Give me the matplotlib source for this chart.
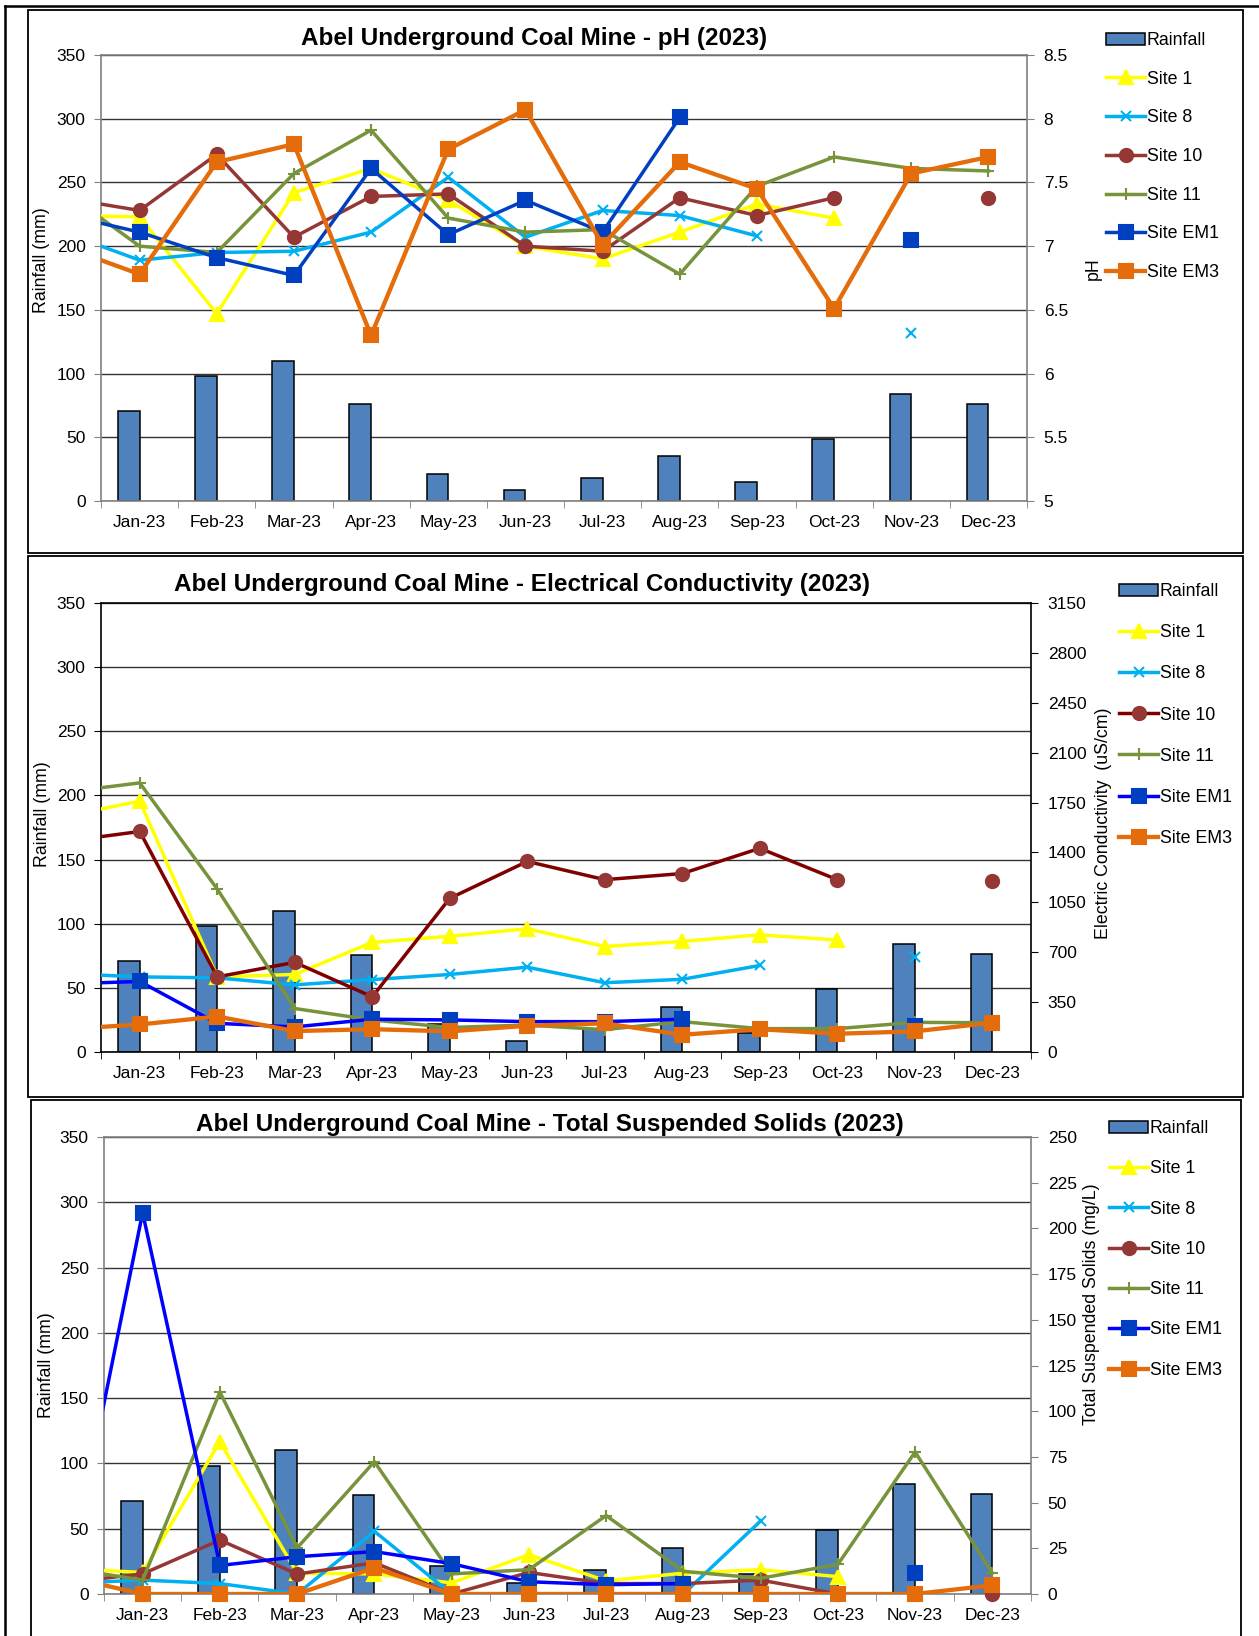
import numpy as np
import matplotlib
matplotlib.use("Agg")
import matplotlib.pyplot as plt
from matplotlib.patches import Rectangle, Patch
from matplotlib.lines import Line2D

plt.rcParams['font.family'] = ['Liberation Sans', 'DejaVu Sans']

nan = np.nan

# categories: Dec-22 is only there so the lines run in from the left edge
months = ['Dec-22', 'Jan-23', 'Feb-23', 'Mar-23', 'Apr-23', 'May-23', 'Jun-23',
          'Jul-23', 'Aug-23', 'Sep-23', 'Oct-23', 'Nov-23', 'Dec-23']
rainfall = [71, 98, 110, 76, 21.5, 8.5, 18, 35, 15, 49, 84, 76.5]

site_names = ['Site 1', 'Site 8', 'Site 10', 'Site 11', 'Site EM1', 'Site EM3']

# pH
ph_site1 = [7.24, 7.23, 6.47, 7.42, 7.61, 7.36, 7.0, 6.9, 7.11, 7.33, 7.22, nan, nan]
ph_site8 = [7.11, 6.89, 6.95, 6.96, 7.11, 7.54, 7.07, 7.28, 7.24, 7.08, nan, 6.32, nan]
ph_site10 = [7.38, 7.28, 7.72, 7.07, 7.39, 7.41, 7.0, 6.96, 7.38, 7.24, 7.38, nan, 7.38]
ph_site11 = [7.44, 7.0, 6.95, 7.57, 7.91, 7.22, 7.11, 7.13, 6.78, 7.47, 7.70, 7.61, 7.59]
ph_em1 = [7.25, 7.11, 6.91, 6.77, 7.61, 7.09, 7.36, 7.11, 8.01, nan, nan, 7.05, nan]
ph_em3 = [7.0, 6.78, 7.66, 7.80, 6.30, 7.76, 8.07, 7.01, 7.66, 7.45, 6.51, 7.57, 7.70]

# electrical conductivity (uS/cm)
ec_site1 = [1650, 1760, 527, 544, 769, 812, 865, 740, 776, 822, 786, nan, nan]
ec_site8 = [551, 527, 520, 471, 508, 544, 595, 486, 510, 607, nan, 667, nan]
ec_site10 = [1475, 1547, 527, 629, 387, 1078, 1337, 1209, 1252, 1429, 1209, nan, 1197]
ec_site11 = [1820, 1888, 1143, 305, 225, 172, 189, 157, 213, 164, 164, 208, 205]
ec_em1 = [477, 495, 201, 176, 230, 225, 213, 213, 230, nan, nan, 184, nan]
ec_em3 = [159, 193, 249, 147, 160, 145, 184, 201, 121, 160, 128, 145, 205]

# total suspended solids (mg/L)
tss_site1 = [13.8, 11.8, 83.3, 11.4, 11.0, 6.1, 21.5, 7.2, 11.4, 13.3, 9.5, nan, nan]
tss_site8 = [5.8, 7.6, 5.7, 0, 34.3, 0, 0, 0, 0, 40, nan, nan, nan]
tss_site10 = [6.2, 11, 29.5, 10.9, 17.1, 0, 11.8, 5.7, 5.7, 7.6, 0, nan, 0]
tss_site11 = [14.2, 7.6, 110.5, 25.2, 72.4, 11, 13.3, 42.9, 12.4, 8.6, 16.2, 77.7, 11.4]
tss_em1 = [0, 208.6, 15.6, 20.4, 23.2, 16.6, 6.7, 5.1, 5.7, nan, nan, 11.4, nan]
tss_em3 = [9.6, 0, 0, 0, 14.3, 0, 0, 0, 0, 0, 0, 0, 4.8]

ph_ticks = [5, 5.5, 6, 6.5, 7, 7.5, 8, 8.5]
ph_labels = ['5', '5.5', '6', '6.5', '7', '7.5', '8', '8.5']
ec_ticks = [0, 350, 700, 1050, 1400, 1750, 2100, 2450, 2800, 3150]
tss_ticks = [0, 25, 50, 75, 100, 125, 150, 175, 200, 225, 250]

marker_colors = ['#FFFF00', '#00B0F0', '#953735', '#77933C', '#0040C0', '#E46C0A']
markers = ['^', 'x', 'o', '+', 's', 's']
msizes = [10, 7.5, 9.5, 8, 10, 10]
lwidths = [2.5, 2.5, 2.5, 2.5, 2.5, 3.1]

W, H = 1259, 1636
fig = plt.figure(figsize=(W / 100, H / 100), dpi=100)

x_site = np.arange(-1, 12)
x_month = np.arange(12)
FS = 12.5


def px(x0, y0, x1, y1):
    # pixel box -> figure fraction [left, bottom, width, height]
    return [x0 / W, 1 - y1 / H, (x1 - x0) / W, (y1 - y0) / H]


def panel(axbox, title, title_xy, series, line_colors, rlim, rticks, rlabels,
          rlabel, rlabel_pos, llabel_pos, leg_xy, leg_space, spine_col):
    ax = fig.add_axes(px(*axbox))
    ax2 = ax.twinx()
    ax.bar(x_month, rainfall, width=-0.28, align='edge', color='#4F81BD',
           edgecolor='black', linewidth=1.1, zorder=2)
    ax.set_xlim(-0.5, 11.5)
    ax.set_ylim(0, 350)
    ax.set_yticks(range(0, 351, 50))
    ax.yaxis.grid(True, color='#333333', linewidth=1.0, zorder=0)
    ax.set_axisbelow(True)
    ax.set_xticks(x_month)
    ax.set_xticklabels(months[1:])
    ax.set_xticks(np.arange(-0.5, 12, 1), minor=True)
    ax.tick_params(axis='x', which='major', length=0, pad=10, labelsize=FS)
    ax.tick_params(axis='x', which='minor', length=5, color=spine_col)
    ax.tick_params(axis='y', length=5, pad=6, labelsize=FS, color=spine_col)
    ax.set_ylabel('Rainfall (mm)', fontsize=12.8)
    ax.yaxis.set_label_coords(*llabel_pos)
    for s in ['left', 'bottom', 'top']:
        ax.spines[s].set_color(spine_col)
        ax.spines[s].set_linewidth(1.2)
    ax.spines['right'].set_visible(False)

    for i, vals in enumerate(series):
        vals = np.array(vals, dtype=float)
        ax2.plot(x_site, vals, color=line_colors[i], lw=lwidths[i], zorder=3 + i)
        ax2.plot(x_site[1:], vals[1:], ls='none', marker=markers[i], ms=msizes[i],
                 color=marker_colors[i], mec=marker_colors[i], mew=1.5,
                 clip_on=False, zorder=3 + i)
    ax2.set_ylim(rlim)
    ax2.set_yticks(rticks)
    ax2.set_yticklabels(rlabels)
    ax2.tick_params(axis='y', length=5, pad=7, labelsize=FS, color=spine_col)
    for s in ['left', 'bottom', 'top']:
        ax2.spines[s].set_visible(False)
    ax2.spines['right'].set_color(spine_col)
    ax2.spines['right'].set_linewidth(1.2)
    ax2.set_ylabel(rlabel, fontsize=12.8)
    ax2.yaxis.set_label_coords(*rlabel_pos)

    fig.text(title_xy[0] / W, 1 - title_xy[1] / H, title, ha='center', va='center',
             fontsize=17.5, fontweight='bold')

    handles = [Patch(facecolor='#4F81BD', edgecolor='black', linewidth=1.1)]
    for i in range(6):
        handles.append(Line2D([], [], color=line_colors[i], lw=lwidths[i],
                              marker=markers[i], ms=msizes[i], mew=1.5,
                              mfc=marker_colors[i], mec=marker_colors[i]))
    fig.legend(handles, ['Rainfall'] + site_names, loc='upper left',
               bbox_to_anchor=(leg_xy[0] / W, 1 - leg_xy[1] / H),
               frameon=False, fontsize=12.8, borderpad=0, borderaxespad=0,
               handlelength=2.2, handletextpad=0.1, labelspacing=leg_space)
    return ax, ax2


std_colors = marker_colors[:]
ec_colors = marker_colors[:]
ec_colors[2] = '#800000'
ec_colors[4] = '#0000FF'
tss_colors = marker_colors[:]
tss_colors[4] = '#0000FF'

panel((101, 55, 1027, 501), 'Abel Underground Coal Mine - pH (2023)', (534, 38),
      [ph_site1, ph_site8, ph_site10, ph_site11, ph_em1, ph_em3], std_colors,
      (5, 8.5), ph_ticks, ph_labels, 'pH', (1.062, 0.52), (-0.055, 0.54),
      (1106, 32), 1.22, '#808080')

panel((101, 603, 1031, 1052),
      'Abel Underground Coal Mine - Electrical Conductivity (2023)', (522, 584),
      [ec_site1, ec_site8, ec_site10, ec_site11, ec_em1, ec_em3], ec_colors,
      (0, 3150), ec_ticks, [str(t) for t in ec_ticks],
      'Electric Conductivity  (uS/cm)', (1.069, 0.51), (-0.054, 0.53),
      (1119, 583), 1.36, 'black')

panel((104, 1137, 1031, 1594),
      'Abel Underground Coal Mine - Total Suspended Solids (2023)', (550, 1125),
      [tss_site1, tss_site8, tss_site10, tss_site11, tss_em1, tss_em3], tss_colors,
      (0, 250), tss_ticks, [str(t) for t in tss_ticks],
      'Total Suspended Solids (mg/L)', (1.056, 0.635), (-0.053, 0.5),
      (1109, 1120), 1.31, '#808080')

# panel frames and the outer page frame
for (x0, y0, x1, y1) in [(28, 10, 1243, 553), (28, 556, 1243, 1097), (31, 1100, 1241, 1660)]:
    fig.add_artist(Rectangle((x0 / W, 1 - y1 / H), (x1 - x0) / W, (y1 - y0) / H,
                             transform=fig.transFigure, fill=False,
                             edgecolor='black', linewidth=1.3))
fig.add_artist(Line2D([5 / W, 1], [1 - 6 / H, 1 - 6 / H], transform=fig.transFigure,
                      color='black', lw=1.8))
fig.add_artist(Line2D([5 / W, 5 / W], [0, 1 - 6 / H], transform=fig.transFigure,
                      color='black', lw=1.8))

fig.savefig('out.png', dpi=100)
